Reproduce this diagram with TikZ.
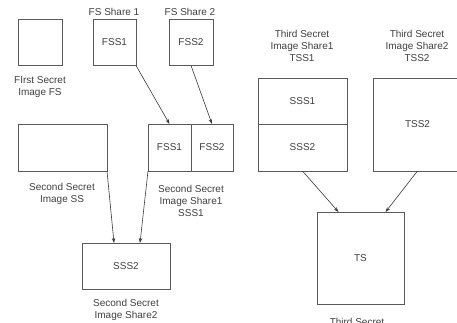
\documentclass[tikz,border=0pt]{standalone}
\usepackage{fontspec}
\setmainfont{Liberation Sans}
\usetikzlibrary{calc,arrows.meta}
\definecolor{boxline}{HTML}{5A5A5A}
\definecolor{txt}{HTML}{404040}
\definecolor{arr}{HTML}{3A3A3A}
\begin{document}
\begin{tikzpicture}[x=1pt,y=-1pt,
  every node/.style={inner sep=0pt,outer sep=0pt,text=txt,font=\fontsize{10}{12}\selectfont},
  bx/.style={draw=boxline,line width=0.8pt,minimum width=#1},
  lbl/.style={align=center},
  conn/.style={draw=arr,line width=0.6pt,-{Stealth[length=5pt,width=3.5pt]}}]
\useasboundingbox[fill=white] (0,0) rectangle (457,322);
% First secret
\node[bx=44,minimum height=46] (fs) at (40,42.5) {};
\node[lbl] (fsl) at (40,87.5) {FIrst Secret\\Image FS};
% FS shares
\node[bx=43,minimum height=46] (fss1) at (114.5,42.5) {FSS1};
\node (fss1l) at (114,12) {FS Share 1};
\node[bx=44,minimum height=46] (fss2) at (191,42.5) {FSS2};
\node (fss2l) at (190,12) {FS Share 2};
% Second secret
\node[bx=89,minimum height=47] (ss) at (62.5,147.5) {};
\node[lbl] (ssl) at (62,193.5) {Second Secret\\Image SS};
% SSS1
\node[bx=43,minimum height=47] (sa) at (169.5,147.5) {FSS1};
\node[bx=42,minimum height=47] (sb) at (212,147.5) {FSS2};
\node[lbl] (sssl) at (191,201) {Second Secret\\Image Share1\\SSS1};
% SSS2
\node[bx=88,minimum height=46] (sss2) at (126,266) {SSS2};
\node[lbl] (sss2l) at (126,309.5) {Second Secret\\Image Share2};
% Third secret shares
\node[lbl] (tss1l) at (302,46) {Third Secret\\Image Share1\\TSS1};
\node[bx=89,minimum height=46] (ta) at (302.5,101) {SSS1};
\node[bx=89,minimum height=47] (tb) at (302.5,147.5) {SSS2};
\node[lbl] (tss2l) at (417,46) {Third Secret\\Image Share2\\TSS2};
\node[bx=89,minimum height=93] (tss2) at (417.5,124.5) {TSS2};
% TS
\node[bx=87,minimum height=92] (ts) at (360.5,258) {TS};
\node[anchor=north] (tsl) at (357,318.5) {Third Secret};
% connectors
\draw[conn] (fss1.south east) -- (sa.north);
\draw[conn] (fss2.south) -- (sb.north);
\draw[conn] (ss.south east) -- ($(sss2.north)+(-12,0)$);
\draw[conn] (sa.south west) -- ($(sss2.north)+(14,0)$);
\draw[conn] (tb.south) -- ($(ts.north)+(-22,0)$);
\draw[conn] (tss2.south) -- ($(ts.north)+(25,0)$);
\end{tikzpicture}
\end{document}
